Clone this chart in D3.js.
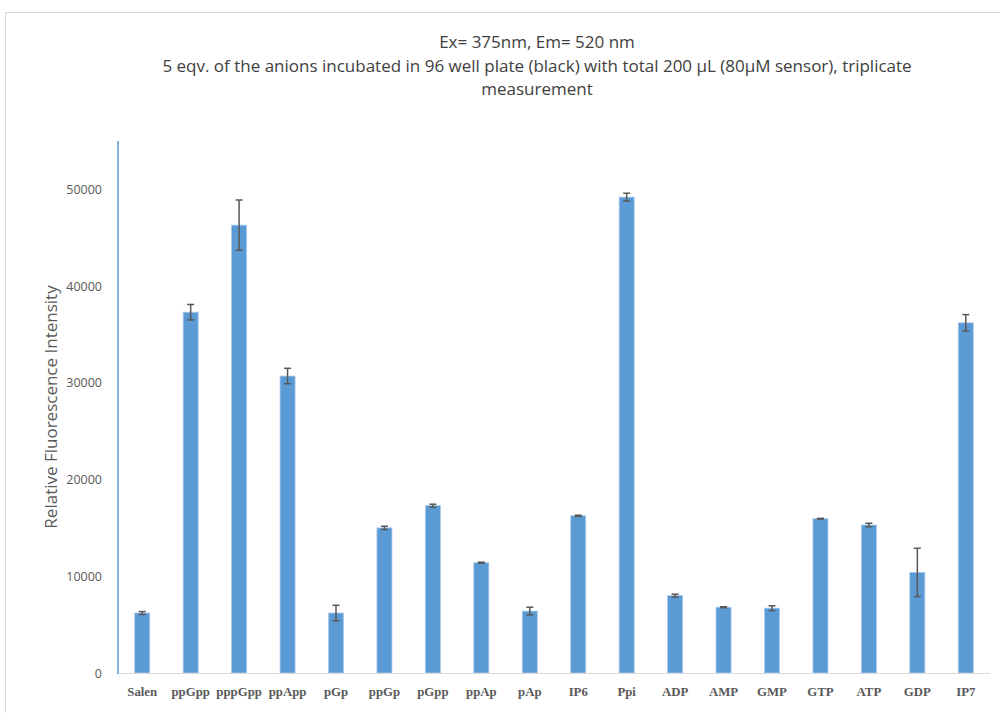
<!DOCTYPE html>
<html>
<head>
<meta charset="utf-8">
<script src="https://cdn.jsdelivr.net/npm/d3@7/dist/d3.min.js"></script>
<style>
  body { margin: 0; background: #fff; }
  svg { display: block; }
</style>
</head>
<body>
<svg id="chart" width="1000" height="713"></svg>
<script>
// Anion panel: mean fluorescence and standard deviation (triplicate)
const categories = ["Salen", "ppGpp", "pppGpp", "ppApp", "pGp", "ppGp", "pGpp", "ppAp", "pAp",
  "IP6", "Ppi", "ADP", "AMP", "GMP", "GTP", "ATP", "GDP", "IP7"];
const intensity = [6200, 37300, 46300, 30700, 6200, 15000, 17300, 11400, 6400,
  16250, 49200, 8000, 6800, 6700, 15950, 15300, 10400, 36200];
const stdev = [150, 800, 2600, 800, 800, 170, 150, 60, 400,
  60, 400, 150, 50, 250, 40, 180, 2500, 850];
const yTicks = [0, 10000, 20000, 30000, 40000, 50000];
const titleLines = [
  "Ex= 375nm, Em= 520 nm",
  "5 eqv. of the anions incubated in 96 well plate (black) with total 200 µL (80µM sensor), triplicate",
  "measurement"
];
const yTitle = "Relative Fluorescence Intensity";

const svg = d3.select("#chart");
const plot = { left: 118, right: 990, top: 141, bottom: 673 };

// chart frame
svg.append("rect")
  .attr("x", 5.5).attr("y", 12.5).attr("width", 1000).attr("height", 720)
  .attr("fill", "none").attr("stroke", "#d9d9d9").attr("stroke-width", 1);

const x = d3.scaleBand().domain(categories).range([plot.left, plot.right]).paddingInner(0.69).paddingOuter(0.345);
const y = d3.scaleLinear().domain([0, 55000]).range([plot.bottom, plot.top]);

// title
svg.append("g").selectAll("text").data(titleLines).join("text")
  .attr("x", 537).attr("y", (d, i) => 48 + i * 23.5)
  .attr("text-anchor", "middle")
  .attr("font-family", "'Open Sans', sans-serif")
  .attr("font-size", 17)
  .attr("fill", "#404040")
  .text(d => d);

// y axis ticks
const yAxis = d3.axisLeft(y).tickValues(yTicks).tickSize(0).tickPadding(16).tickFormat(d3.format("d"));
const gy = svg.append("g").attr("transform", `translate(${plot.left},0)`).call(yAxis);
gy.select(".domain").remove();
gy.selectAll("text")
  .attr("font-family", "'Open Sans', sans-serif")
  .attr("font-size", 12.5)
  .attr("fill", "#595959");

// y title
svg.append("text")
  .attr("transform", `translate(57,${(plot.top + plot.bottom) / 2}) rotate(-90)`)
  .attr("text-anchor", "middle")
  .attr("font-family", "'Open Sans', sans-serif")
  .attr("font-size", 17)
  .attr("fill", "#595959")
  .text(yTitle);

// bars
svg.append("g").selectAll("rect").data(categories).join("rect")
  .attr("x", d => x(d))
  .attr("y", (d, i) => y(intensity[i]))
  .attr("width", x.bandwidth())
  .attr("height", (d, i) => y(0) - y(intensity[i]))
  .attr("fill", "#5b9bd5")
  .attr("stroke", "#a9c8ea")
  .attr("stroke-width", 0.8);

// error bars
const eg = svg.append("g").attr("stroke", "#595959").attr("stroke-width", 1.5);
categories.forEach((c, i) => {
  const cx = x(c) + x.bandwidth() / 2;
  const hi = y(intensity[i] + stdev[i]);
  const lo = y(intensity[i] - stdev[i]);
  eg.append("line").attr("x1", cx).attr("x2", cx).attr("y1", hi).attr("y2", lo);
  eg.append("line").attr("x1", cx - 3.5).attr("x2", cx + 3.5).attr("y1", hi).attr("y2", hi);
  eg.append("line").attr("x1", cx - 3.5).attr("x2", cx + 3.5).attr("y1", lo).attr("y2", lo);
});

// axis lines
svg.append("line")
  .attr("x1", plot.left).attr("x2", plot.right)
  .attr("y1", y(0) + 0.5).attr("y2", y(0) + 0.5)
  .attr("stroke", "#d9d9d9").attr("stroke-width", 1);
svg.append("line")
  .attr("x1", plot.left).attr("x2", plot.left)
  .attr("y1", plot.top).attr("y2", y(0) + 1)
  .attr("stroke", "#5b9bd5").attr("stroke-width", 1.5);

// category labels
const xAxis = d3.axisBottom(x).tickSize(0).tickPadding(14);
const gx = svg.append("g").attr("transform", `translate(0,${plot.bottom})`).call(xAxis);
gx.select(".domain").remove();
gx.selectAll("text")
  .attr("font-family", "'Liberation Serif', 'Times New Roman', serif")
  .attr("font-weight", "bold")
  .attr("font-size", 12.8)
  .attr("fill", "#595959");
</script>
</body>
</html>
